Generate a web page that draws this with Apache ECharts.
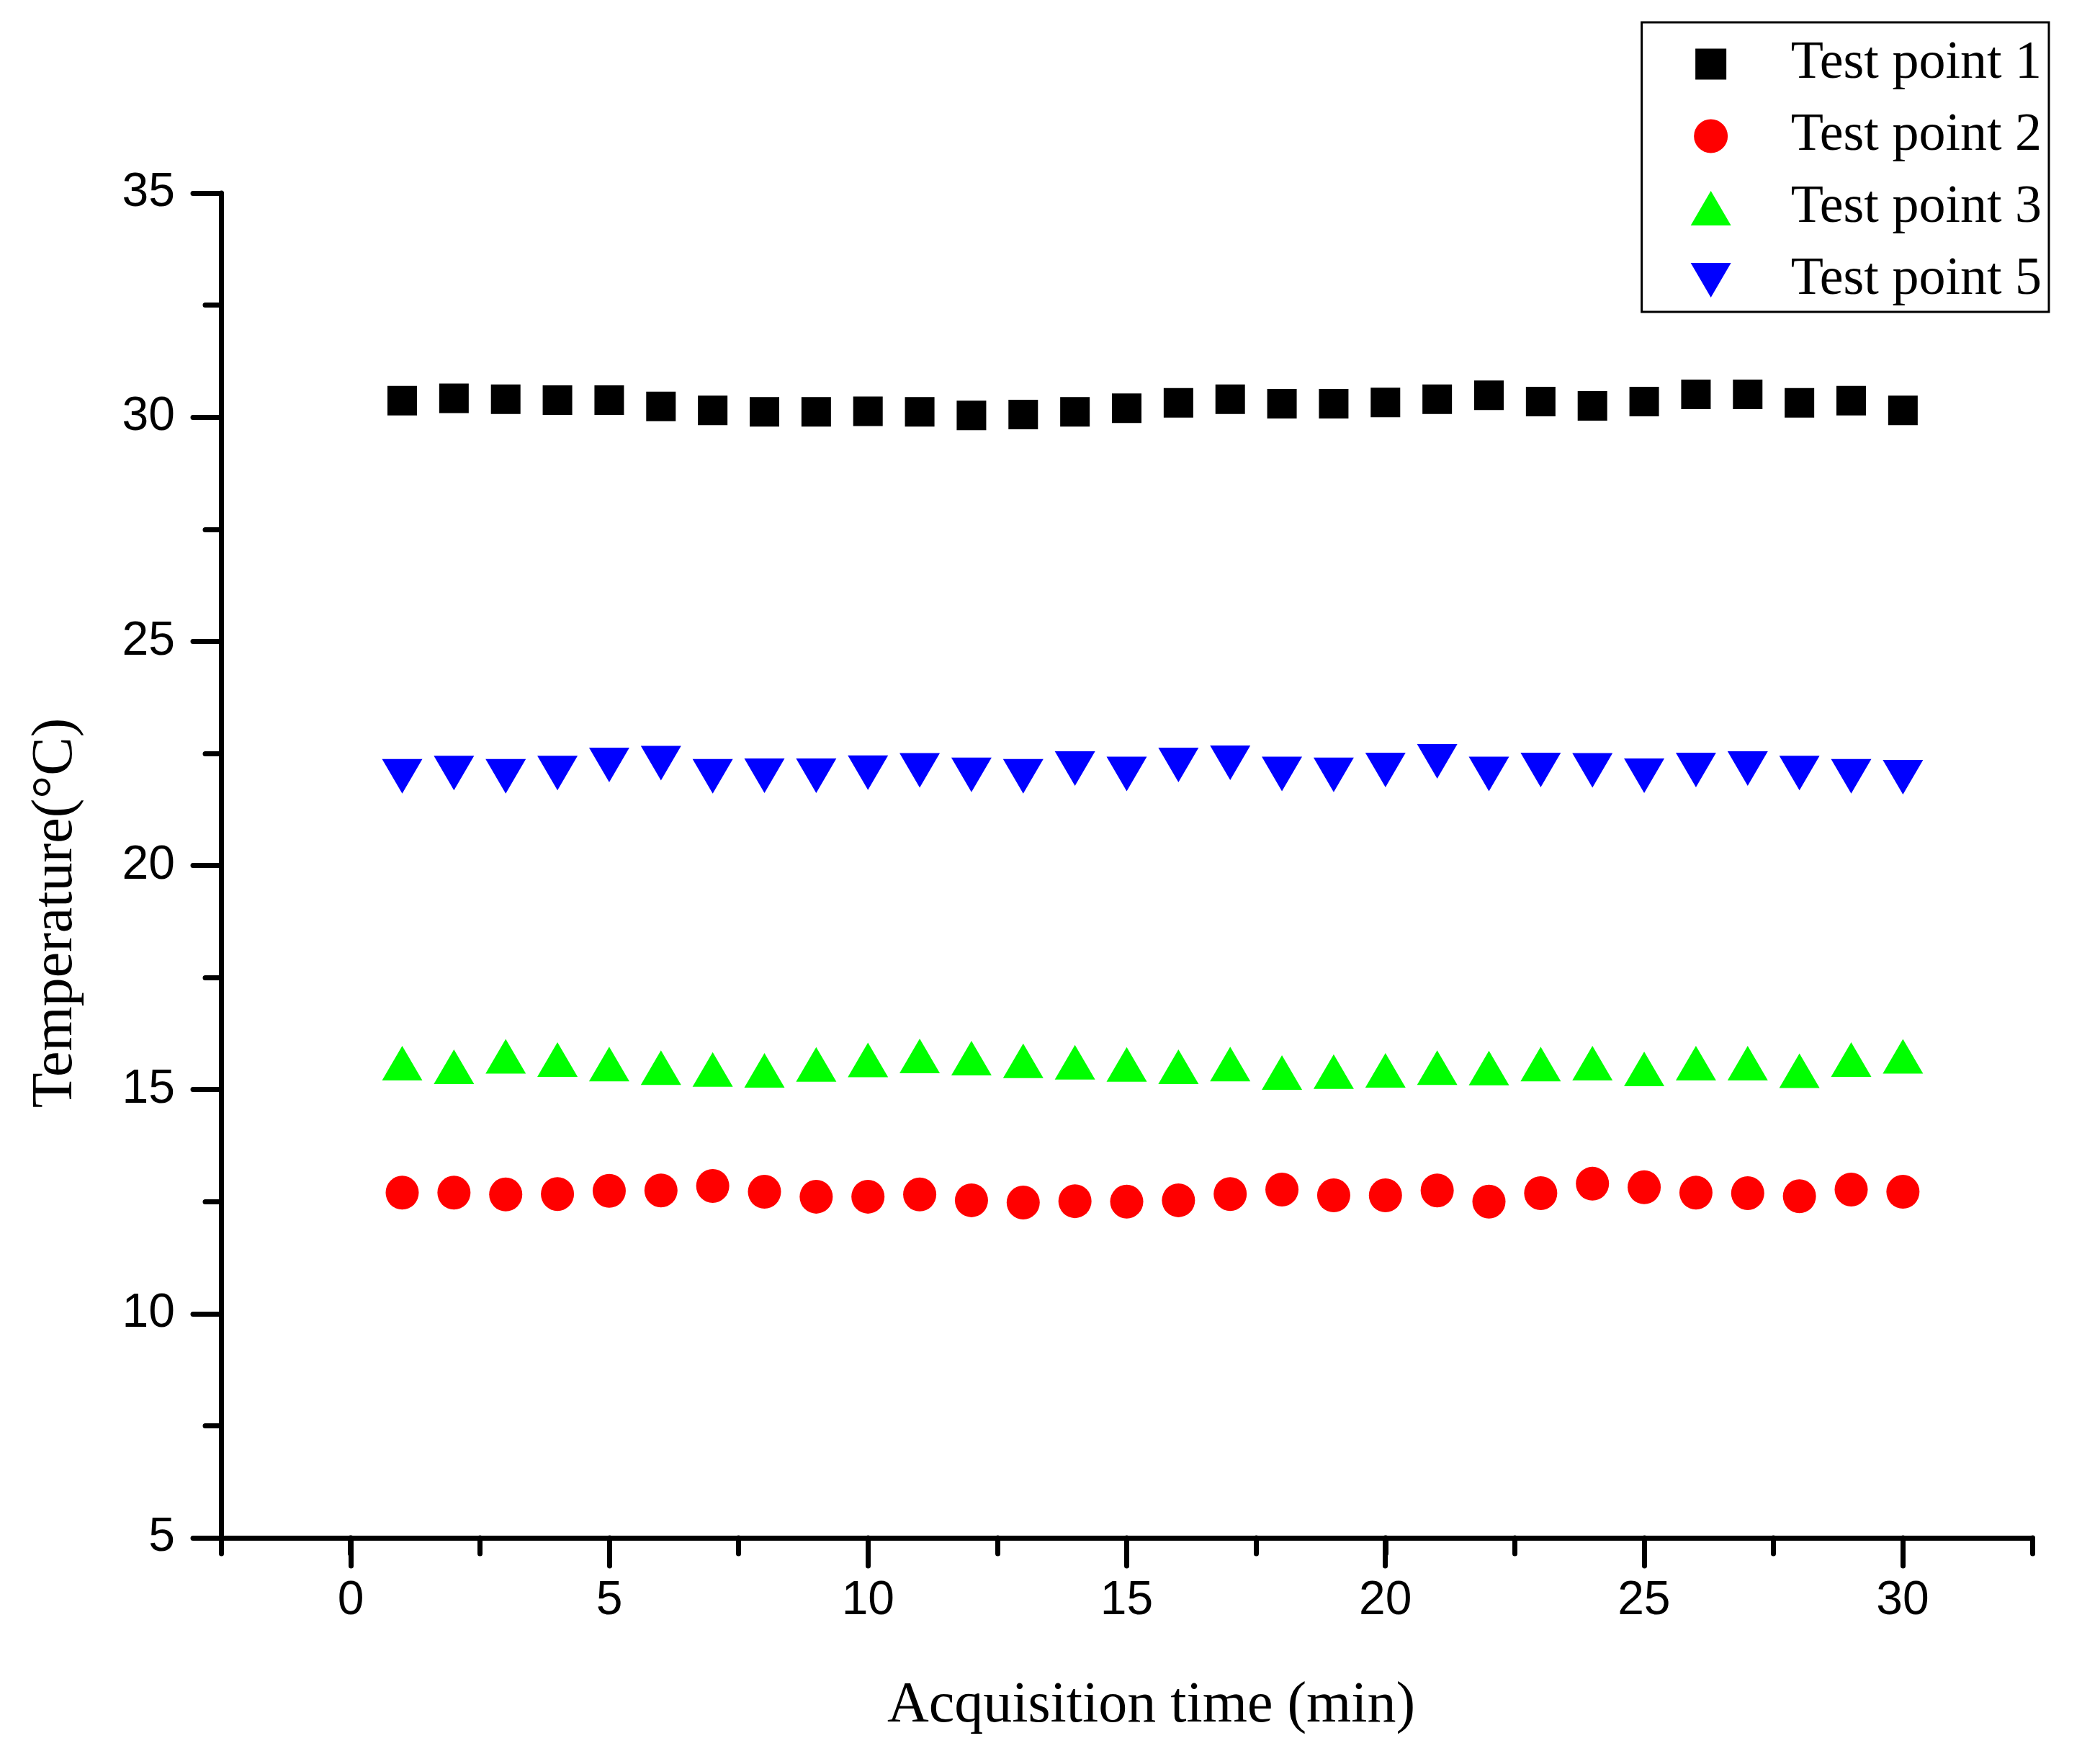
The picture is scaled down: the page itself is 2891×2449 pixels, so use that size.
<!DOCTYPE html>
<html>
<head>
<meta charset="utf-8">
<title>Temperature test points</title>
<script src="https://cdn.jsdelivr.net/npm/echarts@6/dist/echarts.min.js"></script>
<style>
  html, body { margin: 0; padding: 0; background: #fff; }
  #chart { width: 2891px; height: 2449px; }
</style>
</head>
<body>
<div id="chart"></div>
<script>
// acquisition time (min)
var times = [1, 2, 3, 4, 5, 6, 7, 8, 9, 10, 11, 12, 13, 14, 15, 16, 17, 18, 19, 20, 21, 22, 23, 24, 25, 26, 27, 28, 29, 30];

// temperatures
var tp1 = [30.37, 30.42, 30.40, 30.38, 30.38, 30.24, 30.15, 30.12, 30.12, 30.13, 30.12, 30.04, 30.06, 30.12, 30.20,
           30.32, 30.40, 30.30, 30.30, 30.33, 30.40, 30.49, 30.35, 30.25, 30.35, 30.51, 30.51, 30.32, 30.37, 30.15];
var tp2 = [12.70, 12.70, 12.66, 12.67, 12.74, 12.75, 12.85, 12.72, 12.61, 12.61, 12.66, 12.53, 12.48, 12.51, 12.50,
           12.53, 12.67, 12.77, 12.64, 12.64, 12.75, 12.50, 12.69, 12.90, 12.82, 12.70, 12.69, 12.62, 12.77, 12.72];
var tp3 = [15.59, 15.51, 15.74, 15.67, 15.57, 15.49, 15.45, 15.43, 15.56, 15.66, 15.75, 15.70, 15.64, 15.61, 15.56,
           15.51, 15.57, 15.38, 15.40, 15.43, 15.49, 15.48, 15.57, 15.59, 15.46, 15.59, 15.59, 15.42, 15.67, 15.74];
var tp5 = [21.99, 22.06, 21.99, 22.06, 22.24, 22.28, 21.99, 22.00, 22.00, 22.07, 22.12, 22.02, 21.99, 22.16, 22.04,
           22.24, 22.29, 22.04, 22.02, 22.13, 22.32, 22.04, 22.13, 22.12, 22.00, 22.13, 22.16, 22.06, 21.99, 21.97];

var seriesNames = ['Test point 1', 'Test point 2', 'Test point 3', 'Test point 5'];

function pairs(values) {
    return times.map(function (t, i) { return [t, values[i]]; });
}

var chart = echarts.init(document.getElementById('chart'), null, { renderer: 'canvas', devicePixelRatio: 1 });

var serif = '"Liberation Serif", "DejaVu Serif", serif';
var sans = '"Liberation Sans", Arial, sans-serif';
var lineW = 7;

// legend icons drawn in a 56x48 box so every marker keeps its own size
// (the leading moveTo points only pin the box, they draw nothing)
var legendIcons = [
    'path://M0,0M56,48M6.5,2.5h43v43h-43z',
    'path://M0,0M56,48M28,0.5a23.5,23.5 0 1,1 0,47a23.5,23.5 0 1,1 0,-47z',
    'path://M28,0L56,48L0,48Z',
    'path://M0,0L56,0L28,48Z'
];

var option = {
    animation: false,
    backgroundColor: '#fff',
    grid: [
        // main plot area, x from -2.5 to 32.5
        { left: 307, right: 69, top: 268, bottom: 314, containLabel: false },
        // same area trimmed to 0..30, only used for major x ticks and labels
        { left: 487, right: 249, top: 268, bottom: 314, containLabel: false }
    ],
    legend: {
        orient: 'vertical',
        right: 46,
        top: 31,
        padding: [21, 10, 7, 68],
        itemWidth: 56,
        itemHeight: 48,
        itemGap: 26,
        borderColor: '#000',
        borderWidth: 3,
        textStyle: {
            color: '#000',
            fontFamily: serif,
            fontSize: 74,
            padding: [0, 0, 0, 78]
        },
        data: seriesNames.map(function (n, i) { return { name: n, icon: legendIcons[i] }; })
    },
    xAxis: [
        {
            gridIndex: 0,
            type: 'value',
            min: -2.5,
            max: 32.5,
            interval: 2.5,
            name: 'Acquisition time (min)',
            nameLocation: 'middle',
            nameGap: 194,
            nameTextStyle: { color: '#000', fontFamily: serif, fontSize: 80, padding: [0, 0, 0, 68] },
            axisLine: { show: true, onZero: false, lineStyle: { color: '#000', width: lineW, cap: 'round' } },
            axisTick: { show: true, length: 22, lineStyle: { color: '#000', width: lineW, cap: 'round' } },
            axisLabel: { show: false },
            splitLine: { show: false }
        },
        {
            gridIndex: 1,
            type: 'value',
            min: 0,
            max: 30,
            interval: 5,
            axisLine: { show: false, onZero: false },
            axisTick: { show: true, length: 39, lineStyle: { color: '#000', width: lineW, cap: 'round' } },
            axisLabel: { show: true, margin: 55, color: '#000', fontFamily: sans, fontSize: 66 },
            splitLine: { show: false }
        }
    ],
    yAxis: [
        {
            gridIndex: 0,
            type: 'value',
            min: 5,
            max: 35,
            interval: 5,
            name: 'Temperature(°C)',
            nameLocation: 'middle',
            nameGap: 189,
            nameTextStyle: { color: '#000', fontFamily: serif, fontSize: 80, padding: [0, 132, 0, 0] },
            axisLine: { show: true, onZero: false, lineStyle: { color: '#000', width: lineW, cap: 'round' } },
            axisTick: { show: true, length: 39, lineStyle: { color: '#000', width: lineW, cap: 'round' } },
            minorTick: { show: true, splitNumber: 2, length: 22, lineStyle: { color: '#000', width: lineW, cap: 'round' } },
            axisLabel: { show: true, margin: 64, color: '#000', fontFamily: sans, fontSize: 66 },
            splitLine: { show: false }
        },
        {
            gridIndex: 1,
            type: 'value',
            min: 5,
            max: 35,
            show: false
        }
    ],
    series: [
        {
            name: seriesNames[0],
            type: 'scatter',
            xAxisIndex: 0,
            yAxisIndex: 0,
            symbol: 'rect',
            symbolSize: [41, 41],
            itemStyle: { color: '#000000', opacity: 1 },
            data: pairs(tp1)
        },
        {
            name: seriesNames[1],
            type: 'scatter',
            xAxisIndex: 0,
            yAxisIndex: 0,
            symbol: 'circle',
            symbolSize: [46, 47],
            itemStyle: { color: '#ff0000', opacity: 1 },
            data: pairs(tp2)
        },
        {
            name: seriesNames[2],
            type: 'scatter',
            xAxisIndex: 0,
            yAxisIndex: 0,
            symbol: 'triangle',
            symbolSize: [56, 48],
            itemStyle: { color: '#00ff00', opacity: 1 },
            data: pairs(tp3)
        },
        {
            name: seriesNames[3],
            type: 'scatter',
            xAxisIndex: 0,
            yAxisIndex: 0,
            symbol: 'triangle',
            symbolRotate: 180,
            symbolSize: [56, 48],
            itemStyle: { color: '#0000ff', opacity: 1 },
            data: pairs(tp5)
        }
    ]
};

chart.setOption(option);
</script>
</body>
</html>
